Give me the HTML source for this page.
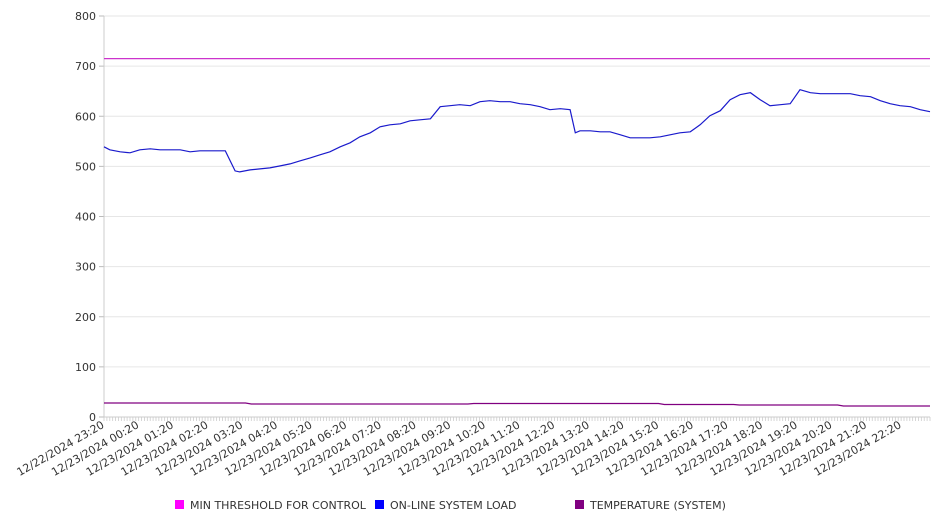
<!DOCTYPE html>
<html><head><meta charset="utf-8"><style>
html,body{margin:0;padding:0;background:#fff;}
svg{display:block;font-family:"DejaVu Sans","Liberation Sans",sans-serif;}
</style></head><body>
<svg id="chart" width="946" height="526">
<g id="grid"></g>
<g id="yaxis"></g>
<g id="xaxis"></g>
<g id="series"></g>
<g id="legend">
<g><rect x="175" y="500" width="9" height="9" fill="#ff00ff"/><text x="190" y="509" font-size="11" fill="#333">MIN THRESHOLD FOR CONTROL</text></g>
<g><rect x="375" y="500" width="9" height="9" fill="#0000ff"/><text x="390" y="509" font-size="11" fill="#333">ON-LINE SYSTEM LOAD</text></g>
<g><rect x="575" y="500" width="9" height="9" fill="#800080"/><text x="590" y="509" font-size="11" fill="#333">TEMPERATURE (SYSTEM)</text></g>
</g>
</svg>
<script>
const yTicks=[0,100,200,300,400,500,600,700,800];
const xLabels=["12/22/2024 23:20","12/23/2024 00:20","12/23/2024 01:20","12/23/2024 02:20","12/23/2024 03:20","12/23/2024 04:20","12/23/2024 05:20","12/23/2024 06:20","12/23/2024 07:20","12/23/2024 08:20","12/23/2024 09:20","12/23/2024 10:20","12/23/2024 11:20","12/23/2024 12:20","12/23/2024 13:20","12/23/2024 14:20","12/23/2024 15:20","12/23/2024 16:20","12/23/2024 17:20","12/23/2024 18:20","12/23/2024 19:20","12/23/2024 20:20","12/23/2024 21:20","12/23/2024 22:20"];
const loadMinutes=[0,10,28,45,62,80,97,114,132,149,166,184,201,210,227,235,253,270,287,305,322,339,357,374,391,409,426,443,461,478,495,513,530,547,565,582,599,616,634,651,668,686,703,720,738,755,772,790,807,816,824,842,859,876,894,911,928,945,963,980,997,1015,1032,1049,1067,1084,1101,1119,1136,1153,1171,1188,1205,1223,1240,1257,1275,1292,1309,1327,1344,1361,1378,1396,1413,1430];
const loadValues=[539,533,529,527,533,535,533,533,533,529,531,531,531,531,491,489,493,495,497,501,505,511,517,523,529,539,547,559,567,579,583,585,591,593,595,619,621,623,621,629,631,629,629,625,623,619,613,615,613,567,571,571,569,569,563,557,557,557,559,563,567,569,583,601,611,633,643,647,633,621,623,625,653,647,645,645,645,645,641,639,631,625,621,619,613,609];
const tempMinutes=[0,245,255,630,640,960,970,1090,1100,1270,1280,1430];
const tempValues=[28,28,26,26,27,27,25,25,24,24,22,22];
const thresholdMinutes=[0,1430];
const thresholdValues=[715,715];

const X0=104,X1=930,Y0=417,Y1=16,MAXM=1430,MAXV=800;
const xs=m=>X0+m*(X1-X0)/MAXM;
const ys=v=>Y0-v*(Y0-Y1)/MAXV;
const NS="http://www.w3.org/2000/svg";
function mk(t,a,p){const e=document.createElementNS(NS,t);for(const k in a)e.setAttribute(k,a[k]);p.appendChild(e);return e;}
const grid=document.getElementById('grid'),ya=document.getElementById('yaxis'),xa=document.getElementById('xaxis'),se=document.getElementById('series');
yTicks.forEach(v=>{
 const g=mk('line',{x1:X0,x2:X1,y1:ys(v),y2:ys(v),stroke:'#e6e6e6','stroke-width':1},grid);
 
 
 mk('line',{x1:X0-5,x2:X0,y1:ys(v),y2:ys(v),stroke:'#bbb'},ya);
 const t=mk('text',{x:X0-8,y:ys(v)+4,'text-anchor':'end','font-size':11,fill:'#333'},ya);
 t.textContent=v;
 
 
});
mk('line',{x1:X0,x2:X0,y1:Y1,y2:Y0,stroke:'#ccc'},ya);
mk('line',{x1:X0,x2:X1,y1:Y0,y2:Y0,stroke:'#ccc'},xa);
for(let m=0;m<=MAXM;m+=5){mk('line',{x1:xs(m),x2:xs(m),y1:Y0,y2:Y0+4,stroke:'#ccc','stroke-width':0.8},xa);}
xLabels.forEach((l,i)=>{
 const x=xs(i*60)+1,y=Y0+10;
 const t=mk('text',{x:x,y:y,'text-anchor':'end','font-size':11,fill:'#333',transform:`rotate(-30 ${x} ${y})`},xa);
 t.textContent=l;
 
 
});
function line(ms,vs,color,name){
 const d=ms.map((m,i)=>(i?'L':'M')+xs(m).toFixed(1)+','+ys(vs[i]).toFixed(1)).join('');
 const p=mk('path',{d:d,fill:'none',stroke:color,'stroke-width':1.2},se);
 
 
}
line(thresholdMinutes,thresholdValues,'#cc33cc','threshold-line');
line(tempMinutes,tempValues,'#800080','temperature-line');
line(loadMinutes,loadValues,'#1a1acc','load-line');
</script>
</body></html>
